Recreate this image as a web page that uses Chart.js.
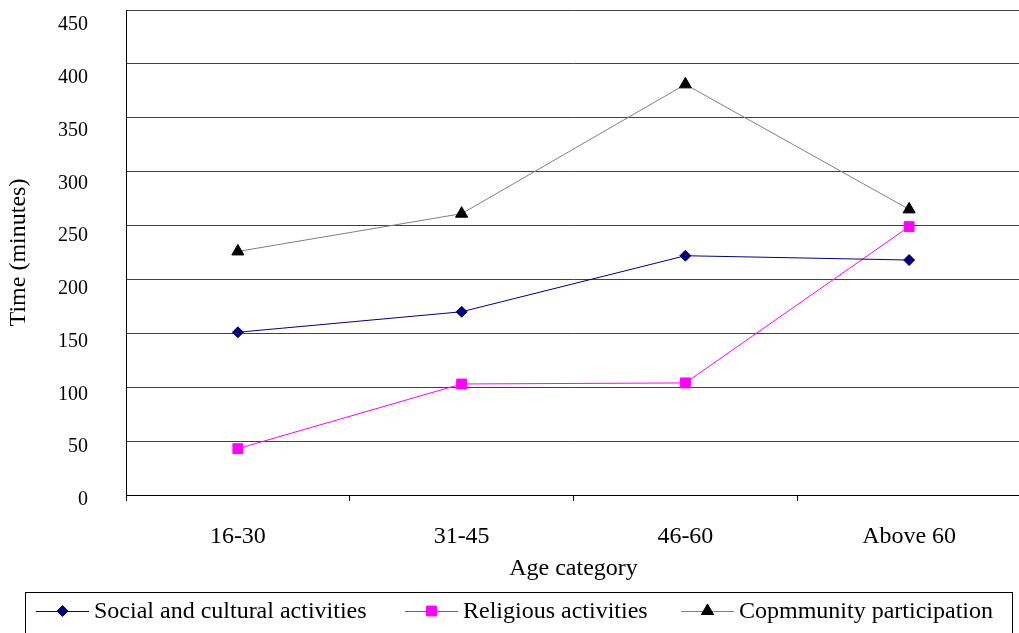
<!DOCTYPE html>
<html>
<head>
<meta charset="utf-8">
<script src="https://cdn.jsdelivr.net/npm/chart.js@4.4.1/dist/chart.umd.min.js"></script>
<style>
  html, body { margin: 0; padding: 0; background: #fff; overflow: hidden; width: 1019px; height: 633px; }
  canvas { display: block; }
</style>
</head>
<body>
<canvas id="chart" width="1029" height="633"></canvas>
<script>
// Age groups on the x axis
const categories = ['16-30', '31-45', '46-60', 'Above 60'];

// Time spent (minutes) per age group
const socialCultural = [151, 170, 222, 218];
const religious = [43, 103, 104, 249];
const community = [226, 261, 381, 265];

// Value axis ticks
const yTickValues = [0, 50, 100, 150, 200, 250, 300, 350, 400, 450];

const seriesNames = ['Social and cultural activities', 'Religious activities', 'Copmmunity participation'];

const FONT = "'Liberation Serif', 'Times New Roman', serif";

function drawMarker(ctx, style, x, y, r, fill, stroke) {
  ctx.save();
  ctx.beginPath();
  if (style === 'rectRot') {
    ctx.moveTo(x - r, y); ctx.lineTo(x, y - r); ctx.lineTo(x + r, y); ctx.lineTo(x, y + r);
  } else if (style === 'rect') {
    const s = Math.SQRT1_2 * r;
    ctx.rect(x - s, y - s, 2 * s, 2 * s);
  } else if (style === 'triangle') {
    let rad = 0;
    ctx.moveTo(x + Math.sin(rad) * r, y - Math.cos(rad) * r);
    rad += 2 * Math.PI / 3;
    ctx.lineTo(x + Math.sin(rad) * r, y - Math.cos(rad) * r);
    rad += 2 * Math.PI / 3;
    ctx.lineTo(x + Math.sin(rad) * r, y - Math.cos(rad) * r);
  }
  ctx.closePath();
  ctx.fillStyle = fill;
  ctx.fill();
  ctx.lineWidth = 1;
  ctx.strokeStyle = stroke;
  ctx.stroke();
  ctx.restore();
}

// Boxed legend along the bottom: line sample with marker, then the series name
const boxedLegend = {
  id: 'boxedLegend',
  afterDraw(chart) {
    const ctx = chart.ctx;
    ctx.save();
    ctx.strokeStyle = '#000';
    ctx.lineWidth = 1;
    ctx.strokeRect(25.5, 592.5, 987, 60);
    const starts = [36, 405, 681];
    const y = 611;
    ctx.font = '24px ' + FONT;
    ctx.textBaseline = 'middle';
    ctx.textAlign = 'left';
    chart.data.datasets.forEach((ds, i) => {
      const x0 = starts[i];
      ctx.beginPath();
      ctx.moveTo(x0, y + 0.5);
      ctx.lineTo(x0 + 53, y + 0.5);
      ctx.strokeStyle = ds.borderColor;
      ctx.lineWidth = 1;
      ctx.stroke();
      drawMarker(ctx, ds.pointStyle, x0 + 26.5, y, ds.pointRadius, ds.pointBackgroundColor, ds.pointBorderColor);
      ctx.fillStyle = '#000';
      ctx.fillText(ds.label, x0 + 58, y + 1);
    });
    ctx.restore();
  }
};

function noPad(s) {
  s.paddingTop = 0; s.paddingBottom = 0; s.paddingLeft = 0; s.paddingRight = 0;
}

new Chart(document.getElementById('chart'), {
  type: 'line',
  data: {
    labels: categories,
    datasets: [
      {
        label: seriesNames[0], data: socialCultural,
        borderColor: '#000080', borderWidth: 1,
        pointStyle: 'rectRot', pointRadius: 5.5,
        pointBackgroundColor: '#000080', pointBorderColor: '#000080', pointBorderWidth: 1,
        tension: 0, fill: false
      },
      {
        label: seriesNames[1], data: religious,
        borderColor: '#FF00FF', borderWidth: 1,
        pointStyle: 'rect', pointRadius: 7,
        pointBackgroundColor: '#FF00FF', pointBorderColor: '#FF00FF', pointBorderWidth: 1,
        tension: 0, fill: false
      },
      {
        label: seriesNames[2], data: community,
        borderColor: '#808080', borderWidth: 1,
        pointStyle: 'triangle', pointRadius: 7,
        pointBackgroundColor: '#000000', pointBorderColor: '#000000', pointBorderWidth: 1,
        tension: 0, fill: false
      }
    ]
  },
  options: {
    responsive: false,
    animation: false,
    layout: { padding: { top: 10, left: 0, right: 2, bottom: 45 } },
    plugins: { legend: { display: false }, tooltip: { enabled: false } },
    scales: {
      x: {
        type: 'category',
        offset: true,
        grid: { offset: true, drawOnChartArea: false, drawTicks: true, tickLength: 6, color: '#000' },
        border: { color: '#000', width: 1 },
        ticks: { color: '#000', padding: 21, font: { family: FONT, size: 24 }, maxRotation: 0 },
        title: { display: true, text: 'Age category', color: '#000', font: { family: FONT, size: 24 }, padding: { top: 0, bottom: 5 } },
        afterFit(s) { s.height = 93; noPad(s); }
      },
      // grid-only value axis that the lines are plotted against
      y: {
        type: 'linear',
        position: 'left',
        min: 0, max: 450,
        ticks: { stepSize: 50, display: false },
        grid: { color: '#404040', lineWidth: 1, drawTicks: false },
        border: { display: false },
        afterFit(s) { s.width = 0; noPad(s); }
      },
      // labelled value axis: tick labels sit a little below their grid lines
      yl: {
        type: 'linear',
        position: 'left',
        min: 4.7, max: 464.2,
        afterBuildTicks(s) { s.ticks = yTickValues.map(v => ({ value: v })); },
        ticks: { autoSkip: false, padding: 38, color: '#000', font: { family: FONT, size: 20 }, callback: v => String(v) },
        grid: { display: false, drawTicks: false },
        border: { display: true, color: '#000', width: 1 },
        title: { display: true, text: 'Time (minutes)', color: '#000', font: { family: FONT, size: 24 }, padding: { top: 4, bottom: 4 } },
        afterFit(s) { s.width = 126; noPad(s); }
      }
    }
  },
  plugins: [boxedLegend]
});
</script>
</body>
</html>
